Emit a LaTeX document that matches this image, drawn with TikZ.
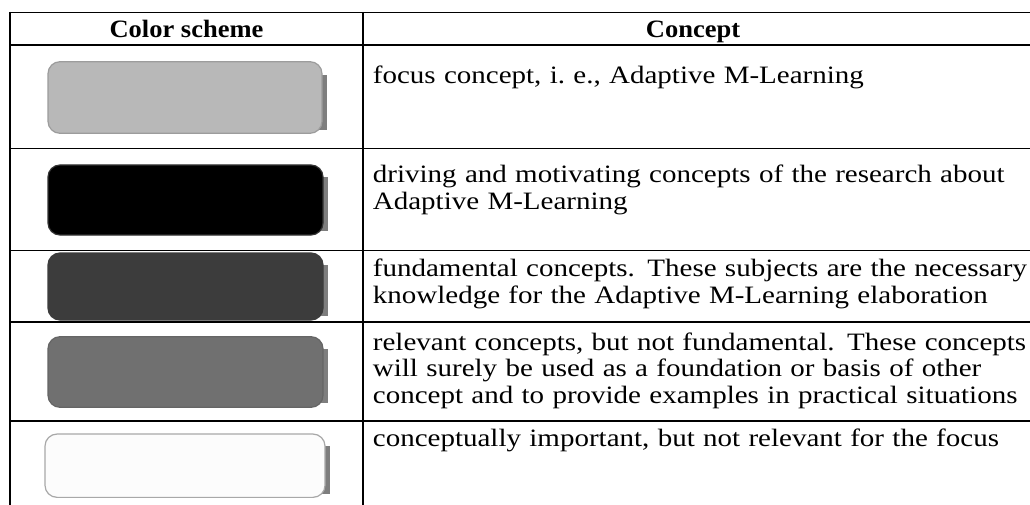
\documentclass[tikz,border=0pt]{standalone}
\usepackage{fontspec}
\setmainfont{Liberation Serif}[FakeStretch=1.16, BoldFeatures={FakeStretch=1.06}]

\definecolor{swlight}{HTML}{B8B8B8}
\definecolor{swlightedge}{HTML}{9C9C9C}
\definecolor{swdark}{HTML}{3C3C3C}
\definecolor{swmid}{HTML}{707070}
\definecolor{swwhite}{HTML}{FCFCFC}
\definecolor{swwhiteedge}{HTML}{A8A8A8}
\definecolor{swstrip}{HTML}{7E7E7E}

% one justified line of the concept column
\newcommand\fullline[1]{\makebox[648pt][s]{\strut #1}}

\tikzset{
  rule/.style={line width=1.4pt, black},
  swatch/.style={rectangle, rounded corners=12pt, inner sep=0pt, line width=1.2pt},
  headtext/.style={anchor=base, inner sep=0pt, font=\bfseries\fontsize{25}{26.5}\selectfont},
  celltext/.style={anchor=north west, inner sep=0pt, text width=648pt, align=left,
                   font=\fontsize{25}{26.5}\selectfont},
}

\begin{document}
\begin{tikzpicture}[x=1pt, y=-1pt]
  \useasboundingbox (0,0) rectangle (1030,505);
  \fill[white] (0,0) rectangle (1030,505);

  % table rules
  \draw[rule] (10,12.7) -- (1030,12.7);
  \draw[rule] (10,45) -- (1030,45);
  \draw[rule] (10,148.7) -- (1030,148.7);
  \draw[rule] (10,250.7) -- (1030,250.7);
  \draw[rule] (10,322) -- (1030,322);
  \draw[rule] (10,421) -- (1030,421);
  \draw[rule] (10,12) -- (10,505);
  \draw[rule] (363,12) -- (363,505);

  % header
  \node[headtext] (hcol) at (186.5,37.3) {Color scheme};
  \node[headtext] (hcon) at (693,37.3) {Concept};

  % colour swatches (rounded box with a grey side strip)
  \fill[swstrip] (312,75) rectangle (327,130);
  \node[swatch, fill=swlight, draw=swlightedge, minimum width=274pt, minimum height=71.6pt] (s1) at (185,97.5) {};

  \fill[swstrip] (313,177) rectangle (328,231);
  \node[swatch, fill=black, draw=black!80, minimum width=275pt, minimum height=70pt] (s2) at (185.5,200) {};

  \fill[swstrip] (313,265) rectangle (328,316);
  \node[swatch, fill=swdark, draw=swdark, minimum width=275pt, minimum height=67pt] (s3) at (185.5,286.5) {};

  \fill[swstrip] (313,349) rectangle (328,403);
  \node[swatch, fill=swmid, draw=swmid!90!black, minimum width=275pt, minimum height=70.6pt] (s4) at (185.5,372) {};

  \fill[swstrip] (315,446) rectangle (330,494);
  \node[swatch, fill=swwhite, draw=swwhiteedge, minimum width=280pt, minimum height=63.3pt] (s5) at (185,465.7) {};

  % concept descriptions
  \node[celltext] (c1) at (372.7,64.8) {\strut focus concept, i.\ e., Adaptive M-Learning};
  \node[celltext] (c2) at (372.7,164.2) {\fullline{driving and motivating concepts of the research about}\\
    \strut Adaptive M-Learning};
  \node[celltext] (c3) at (372.7,258.2) {\fullline{fundamental concepts. These subjects are the necessary}\\
    \strut knowledge for the Adaptive M-Learning elaboration};
  \node[celltext] (c4) at (372.7,331.5) {\fullline{relevant concepts, but not fundamental. These concepts}\\
    \fullline{will surely be used as a foundation or basis of other}\\
    \fullline{concept and to provide examples in practical situations}};
  \node[celltext] (c5) at (372.7,427.5) {\strut conceptually important, but not relevant for the focus};
\end{tikzpicture}
\end{document}
